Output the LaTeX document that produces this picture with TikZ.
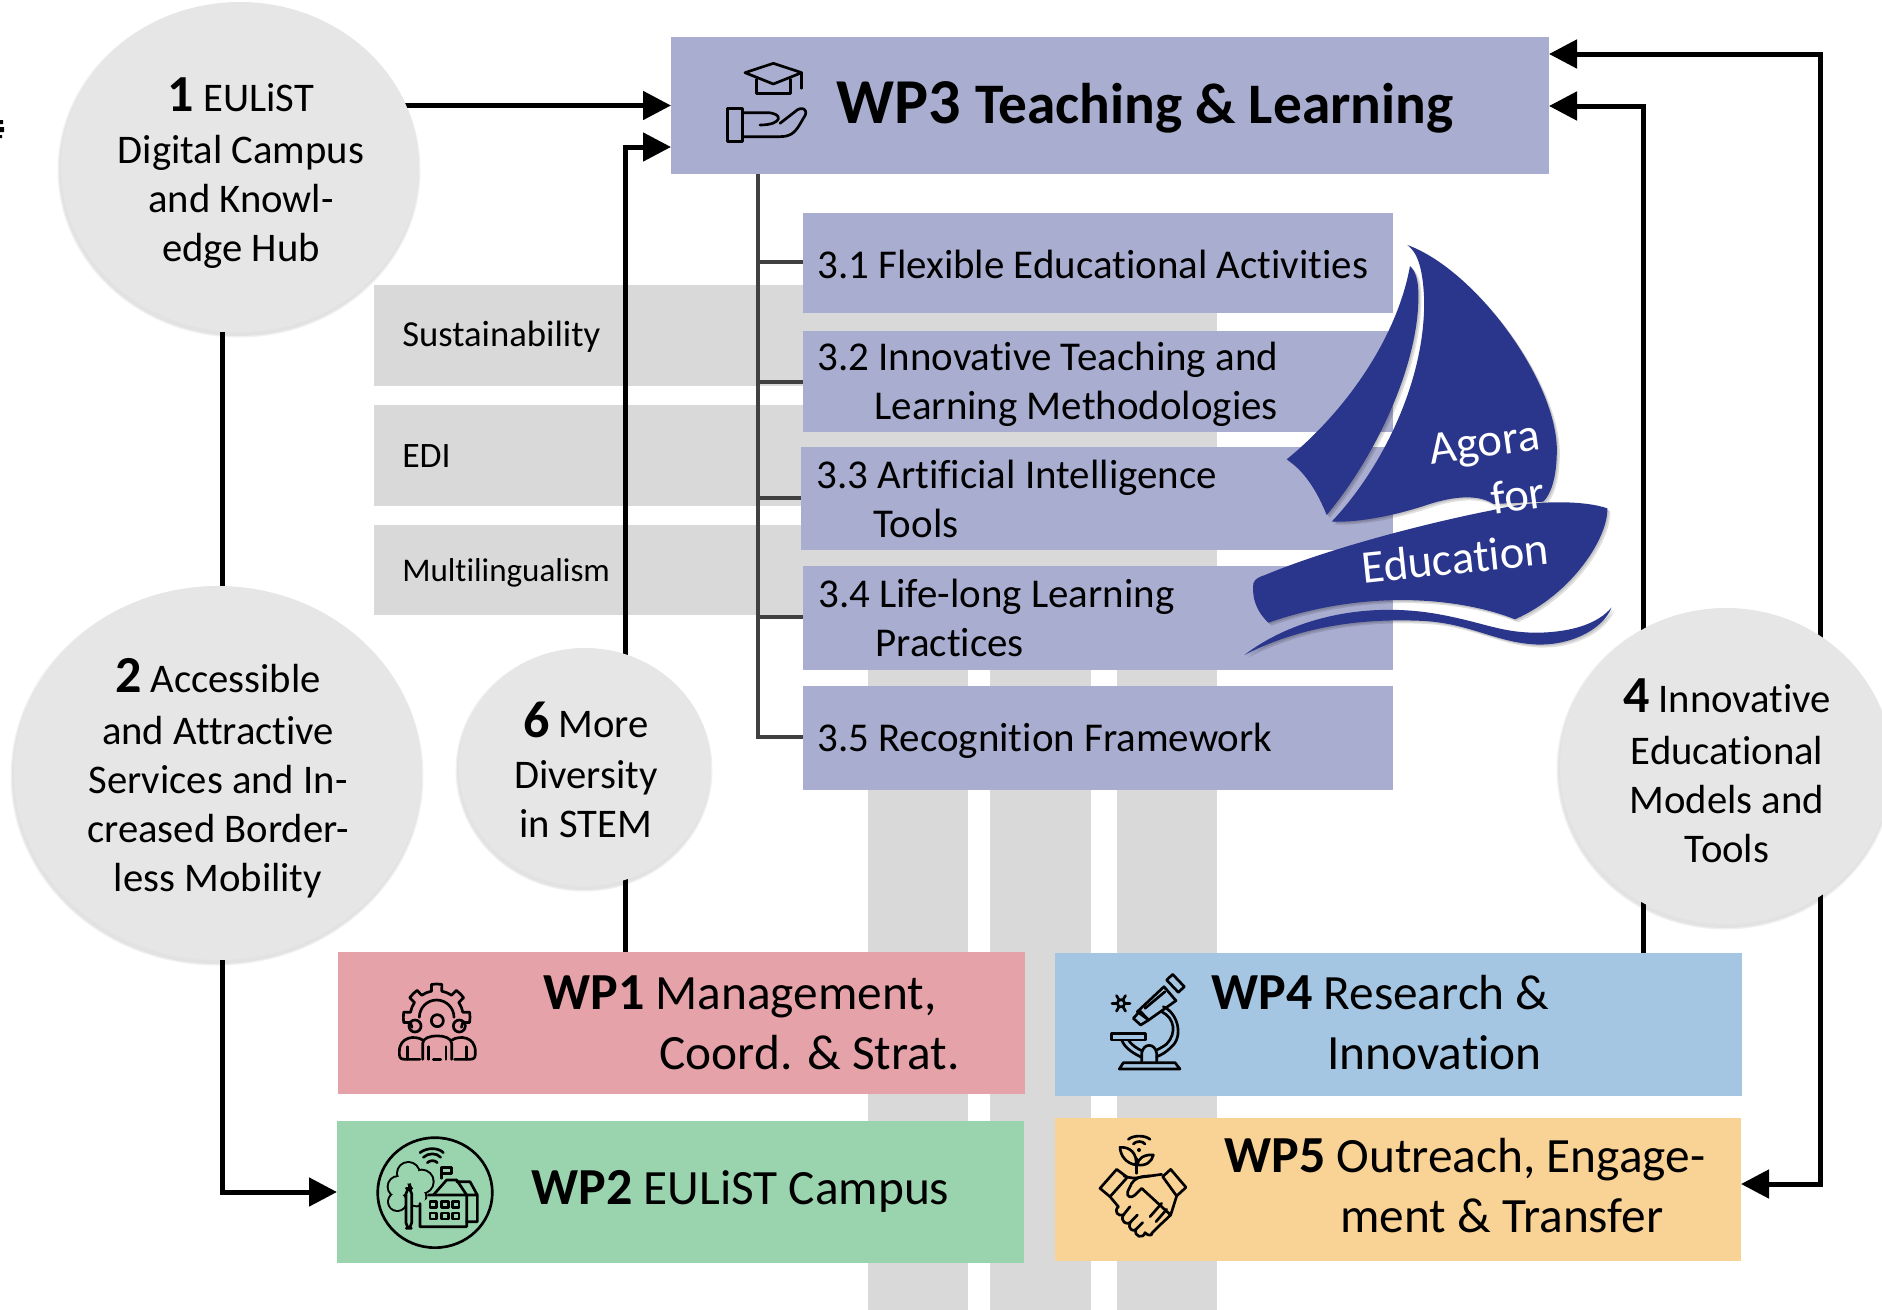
\documentclass[tikz,border=0pt]{standalone}
\usepackage{fontspec}
\setmainfont[Ligatures=CommonOff]{Carlito}
\usetikzlibrary{arrows.meta,shapes.geometric}
\pgfdeclarelayer{bgbars}\pgfdeclarelayer{conn}\pgfsetlayers{bgbars,conn,main}
\definecolor{wpviolet}{HTML}{A9ADD0}
\definecolor{barcol}{HTML}{D9D9D9}
\definecolor{circcol}{HTML}{E6E6E6}
\definecolor{wpred}{HTML}{E5A2A8}
\definecolor{wpgreen}{HTML}{9AD4AE}
\definecolor{wpblue}{HTML}{A5C6E2}
\definecolor{wporange}{HTML}{F9D296}
\definecolor{shipcol}{HTML}{2A368C}
\tikzset{
  flatbox/.style={rectangle,inner sep=0pt,outer sep=0pt,draw=none},
  goal/.style={ellipse,inner sep=0pt,outer sep=0pt,draw=none,fill=circcol},
  flow/.style={line width=3.75pt,black,-{Triangle[length=21pt,width=21pt]}},
  stem/.style={line width=2.4pt,black!75},
  icon/.style={line width=2pt,black,line join=round,line cap=round},
  goaltext/.style={inner sep=0pt,align=center,font=\fontsize{30.5}{36.75}\selectfont},
  subtext/.style={inner sep=0pt,anchor=west,align=left,font=\fontsize{30.7}{36.75}\selectfont},
  bartext/.style={inner sep=0pt,anchor=west},
  wptext/.style={inner sep=0pt,anchor=west,align=left,font=\fontsize{37}{45}\selectfont},
  shiptext/.style={inner sep=0pt,white,font=\fontsize{35}{40}\selectfont},
}
\newcommand{\rbox}[6]{%
  \pgfmathsetmacro{\rcx}{(#2+#4)/2}\pgfmathsetmacro{\rcy}{(#3+#5)/2}%
  \pgfmathsetmacro{\rbw}{(#4-#2)*.75}\pgfmathsetmacro{\rbh}{(#5-#3)*.75}%
  \node[flatbox,fill=#6,minimum width=\rbw pt,minimum height=\rbh pt] (#1) at (\rcx,\rcy) {};}
\newcommand{\goalnode}[5]{%
  \foreach \gr in {2.5,1}{\fill[black,opacity=.06] (#2-1,#3+3) ellipse [x radius=#4+\gr,y radius=#5+\gr];}
  \pgfmathsetmacro{\rbw}{#4*1.5}\pgfmathsetmacro{\rbh}{#5*1.5}%
  \node[goal,minimum width=\rbw pt,minimum height=\rbh pt] (#1) at (#2,#3) {};}
\newcommand{\numb}[1]{{\fontsize{39}{36.75}\selectfont\bfseries #1}}
\newcommand{\wpb}[1]{{\fontsize{39}{45}\selectfont\bfseries #1}}
\newcommand{\drawship}[1]{%
  \fill[#1] (630,198) .. controls (648,215) and (655,245) .. (655,280)
     .. controls (660,480) and (535,760) .. (380,945)
     .. controls (350,870) and (310,810) .. (260,778)
     .. controls (430,640) and (590,420) .. (630,198) -- cycle;
  \fill[#1] (622,135) .. controls (830,210) and (1085,560) .. (1070,770)
     .. controls (1068,830) and (1055,880) .. (1030,905)
     -- (880,912) .. controls (840,885) and (770,885) .. (680,915)
     .. controls (590,945) and (480,968) .. (395,965)
     .. controls (560,790) and (680,520) .. (672,290)
     .. controls (668,200) and (650,155) .. (622,135) -- cycle;
  \fill[#1] (160,1150) .. controls (165,1135) and (180,1130) .. (195,1125)
     .. controls (400,1040) and (700,965) .. (880,930)
     .. controls (1000,900) and (1150,900) .. (1222,925)
     .. controls (1225,1010) and (1120,1180) .. (945,1258)
     .. controls (800,1200) and (520,1160) .. (205,1268)
     .. controls (170,1235) and (155,1195) .. (160,1150) -- cycle;
  \fill[#1] (133,1365) .. controls (270,1260) and (480,1205) .. (700,1240)
     .. controls (850,1265) and (900,1300) .. (1020,1298)
     .. controls (1120,1295) and (1195,1270) .. (1235,1222)
     .. controls (1205,1295) and (1100,1340) .. (1000,1333)
     .. controls (880,1325) and (800,1265) .. (650,1262)
     .. controls (450,1255) and (280,1290) .. (133,1365) -- cycle;}
\begin{document}
\begin{tikzpicture}[x=.75pt,y=-.75pt]
\useasboundingbox (0,0) rectangle (1882,1310);
\begin{scope}
\clip (0,0) rectangle (1882,1310);
% stray fragment at the left border
\fill[black] (0,120) rectangle (3,124) (0,127) rectangle (4,132) (0,135) rectangle (2,138);
% bars behind
\begin{pgfonlayer}{bgbars}
\rbox{v1}{868}{300}{968}{1310}{barcol}
\rbox{v2}{990}{300}{1091}{1310}{barcol}
\rbox{v3}{1117}{300}{1217}{1310}{barcol}
\rbox{b1}{374}{285}{1216}{386}{barcol}
\rbox{b2}{374}{405}{1216}{506}{barcol}
\rbox{b3}{374}{525}{1216}{615}{barcol}
\end{pgfonlayer}
\node[bartext,font=\fontsize{27.5}{33}\selectfont] (tb1) at (402,337) {Sustainability};
\node[bartext,font=\fontsize{26.8}{33}\selectfont] (tb2) at (402,456) {EDI};
\node[bartext,font=\fontsize{24.8}{33}\selectfont] (tb3) at (402,573) {Multilingualism};
% boxes
\rbox{wp3}{671}{37}{1549}{174}{wpviolet}
\rbox{s31}{803}{213}{1393}{313}{wpviolet}
\rbox{s32}{803}{331}{1393}{432}{wpviolet}
\rbox{s33}{801}{447}{1393}{550}{wpviolet}
\rbox{s34}{803}{566}{1393}{670}{wpviolet}
\rbox{s35}{803}{686}{1393}{790}{wpviolet}
\rbox{wp1}{338}{952}{1025}{1094}{wpred}
\rbox{wp2}{337}{1121}{1024}{1263}{wpgreen}
\rbox{wp4}{1055}{953}{1742}{1096}{wpblue}
\rbox{wp5}{1055}{1118}{1741}{1261}{wporange}
% goals
\goalnode{c1}{240}{167}{179}{165}
\goalnode{c2}{218}{773}{204}{187}
\goalnode{c6}{585}{767}{126}{119}
\goalnode{c4}{1726}{766}{166}{158}
% connectors
\coordinate (t6) at (625,147);
\coordinate (t4) at (1643,106);
\coordinate (t5a) at (1820,54);
\coordinate (t5b) at (1820,1184);
\coordinate (t2) at (222,1192);
\coordinate (st1) at (758,262);
\coordinate (st2) at (758,382);
\coordinate (st3) at (758,498);
\coordinate (st4) at (758,617);
\coordinate (st5) at (758,737);
\begin{pgfonlayer}{conn}
\draw[flow] (c1.center |- wp3.west) -- (wp3.west);
\draw[flow] (wp1.north -| t6) -- (t6) -- (wp3.west |- t6);
\draw[flow] (c1.south -| t2) -- (t2) -- (wp2.west |- t2);
\draw[flow] (wp4.north -| t4) -- (t4) -- (wp3.east |- t4);
\draw[flow,{Triangle[length=21pt,width=21pt]}-{Triangle[length=21pt,width=21pt]}] (wp3.east |- t5a) -- (t5a) -- (t5b) -- (wp5.east |- t5b);
\draw[stem] (wp3.south -| st5) -- (st5) -- (s35.west |- st5);
\draw[stem] (st1) -- (s31.west |- st1);
\draw[stem] (st2) -- (s32.west |- st2);
\draw[stem] (st3) -- (s33.west |- st3);
\draw[stem] (st4) -- (s34.west |- st4);
\end{pgfonlayer}
% goal texts
\node[goaltext] (g1) at (241,173) {\numb{1} EULiST\\[2pt]Digital Campus\\and Knowl-\\edge Hub};
\node[goaltext] (g2) at (218,778) {\numb{2} Accessible\\[2pt]and Attractive\\Services and In-\\creased Border-\\less Mobility};
\node[goaltext] (g6) at (586,770) {\numb{6} More\\[2pt]Diversity\\in STEM};
\node[goaltext] (g4) at (1727,771) {\numb{4} Innovative\\[2pt]Educational\\Models and\\Tools};
% sub texts
\node[subtext] (t31) at (817,264) {3.1 Flexible Educational Activities};
\node[subtext] (t32) at (817,384) {3.2 Innovative Teaching and\\\hspace*{43pt}Learning Methodologies};
\node[subtext] (t33) at (816,499) {3.3 Artificial Intelligence\\\hspace*{43pt}Tools};
\node[subtext] (t34) at (818,618) {3.4 Life-long Learning\\\hspace*{43pt}Practices};
\node[subtext] (t35) at (817,741) {3.5 Recognition Framework};
% wp texts
\node[inner sep=0pt,anchor=west] (tw3) at (836,107) {\fontsize{48}{50}\selectfont\bfseries WP3 {\fontsize{43}{50}\selectfont Teaching \& Learning}};
\node[wptext] (tw1) at (543,1023) {\wpb{WP1} Management,\\\hspace*{87pt}Coord. \& Strat.};
\node[wptext] (tw2) at (531,1191) {\wpb{WP2} EULiST Campus};
\node[wptext] (tw4) at (1211,1023) {\wpb{WP4} Research \&\\\hspace*{87pt}Innovation};
\node[wptext] (tw5) at (1224,1186) {\wpb{WP5} Outreach, Engage-\\\hspace*{87pt}ment \& Transfer};
% ship
\begin{scope}[shift={(1203,203)},scale=1/3]\drawship{black,opacity=.12}\end{scope}
\begin{scope}[shift={(1201.5,201.5)},scale=1/3]\drawship{black,opacity=.12}\end{scope}
\begin{scope}[shift={(1200,200)},scale=1/3]\drawship{shipcol}\end{scope}
\node[shiptext,rotate=8] (ag) at (1485,446) {Agora};
\node[shiptext,rotate=8] (fo) at (1518,495) {for};
\node[shiptext,rotate=6] (ed) at (1455,558) {Education};
% icon WP3
\begin{scope}[shift={(680,30)},scale=1/3]
\draw[icon] (195,128)--(280,100)--(365,128)--(280,162)--cycle;
\draw[icon] (365,128)--(365,175);
\draw[icon] (230,148)--(230,190)--(332,190)--(332,148);
\draw[icon] (142,235) rectangle (188,335);
\draw[icon] (188,248)--(260,248) .. controls (310,248) and (310,285) .. (240,285);
\draw[icon] (300,280)--(345,245) .. controls (365,225) and (390,240) .. (370,265) .. controls (350,300) and (340,320) .. (300,320)--(188,320);
\end{scope}
% icon WP1
\begin{scope}[shift={(320,940)},scale=1/3]
\begin{scope}[shift={(350,232)}]
\foreach \a in {180,225,270,315,360}{
\draw[icon] (\a-22:80) arc [start angle=\a-22,end angle=\a-11,radius=80] -- (\a-9:100) arc [start angle=\a-9,end angle=\a+9,radius=100] -- (\a+11:80) arc [start angle=\a+11,end angle=\a+22,radius=80];}
\draw[icon] (180:52) arc [start angle=180,end angle=360,radius=52];
\end{scope}
\draw[icon] (352,242) circle [radius=18];
\draw[icon] (285,258) circle [radius=18];
\draw[icon] (418,258) circle [radius=18];
\draw[icon] (308,358)--(308,310) .. controls (308,280) and (395,280) .. (395,310)--(395,358);
\draw[icon] (325,358)--(325,320) (378,358)--(378,320) (340,358)--(362,358);
\draw[icon] (300,358)--(255,358) .. controls (238,358) and (238,350) .. (238,335) .. controls (238,290) and (285,285) .. (308,300);
\draw[icon] (404,358)--(449,358) .. controls (466,358) and (466,350) .. (466,335) .. controls (466,290) and (419,285) .. (396,300);
\draw[icon] (262,358)--(262,320) (440,358)--(440,320);
\end{scope}
% icon WP2
\begin{scope}[shift={(320,940)},scale=1/3]
\draw[icon] (345,758) ellipse [x radius=172,y radius=165];
\foreach \px/\py/\pr in {265/700/33,235/740/31,305/725/35,232/785/27,290/770/28}{\draw[icon,fill=wpgreen] (\px,\py) circle [radius=\pr];}
\foreach \px/\py/\pr in {265/700/33,235/740/31,305/725/35,232/785/27,290/770/28}{\fill[wpgreen] (\px,\py) circle [radius=\pr-2];}
\draw[icon,fill=wpgreen,rounded corners=4pt] (258,745) rectangle (275,865);
\draw[icon,fill=wpgreen] (340,765)--(380,720)--(410,720)--(440,765)--(440,860)--(300,860)--(300,790);
\draw[icon] (325,765)--(440,765) (410,725)--(450,725)--(472,765)--(440,765) (472,765)--(472,845)--(440,845);
\draw[icon] (365,715)--(365,682)--(395,682)--(395,700)--(365,700);
\foreach \wx in {340,375,407}{\foreach \wy in {793,828}{\draw[icon] (\wx-10,\wy-9) rectangle (\wx+10,\wy+9);}}
\draw[icon] (322,668) .. controls (330,660) and (345,660) .. (352,668);
\draw[icon] (310,652) .. controls (325,638) and (350,638) .. (362,652);
\draw[icon] (300,638) .. controls (320,622) and (355,622) .. (370,638);
\end{scope}
% icon WP4
\begin{scope}[shift={(1050,940)},scale=1/3]
\draw[icon] (350,120)--(368,103)--(403,140)--(385,157)--cycle;
\draw[icon] (262,215)--(342,140)--(378,182)--(296,240)--cycle;
\draw[icon] (250,235)--(270,213)--(296,240)--(272,255)--cycle;
\draw[icon] (285,205)--(345,155);
\draw[icon] (340,200) .. controls (385,220) and (400,290) .. (365,320) .. controls (350,335) and (335,345) .. (320,350);
\draw[icon] (335,215) .. controls (375,235) and (380,280) .. (350,312) .. controls (340,320) and (330,325) .. (320,330);
\draw[icon] (185,280) rectangle (287,300);
\draw[icon] (215,300) .. controls (225,325) and (250,340) .. (275,352);
\draw[icon] (235,300) .. controls (245,315) and (260,325) .. (275,332);
\draw[icon] (208,387)--(220,368)--(375,368)--(390,387)--cycle;
\draw[icon] (275,365)--(275,340) .. controls (280,308) and (315,308) .. (320,340)--(320,365);
\draw[icon] (213,190) circle [radius=11];
\foreach \a in {0,60,120,180,240,300}{\draw[icon] (213,190) ++(\a:11) -- ++(\a:16);}
\end{scope}
% icon WP5
\begin{scope}[shift={(1050,940)},scale=1/3]
\draw[icon] (260,700)--(260,655);
\draw[icon] (210,622) .. controls (240,620) and (262,640) .. (258,675) .. controls (230,670) and (212,650) .. (210,622) -- cycle;
\draw[icon] (310,645) .. controls (285,642) and (262,655) .. (262,675) .. controls (290,678) and (305,665) .. (310,645) -- cycle;
\fill (267,630) circle [radius=6];
\draw[icon] (250,612) .. controls (258,602) and (278,602) .. (285,612);
\draw[icon] (235,598) .. controls (250,585) and (285,585) .. (300,598);
\draw[icon] (150,745)--(200,688)--(232,712)--(180,770)--cycle;
\draw[icon] (338,710)--(362,688)--(408,742)--(380,768)--cycle;
\draw[icon] (222,708) .. controls (240,715) and (255,715) .. (270,712) -- (335,703);
\draw[icon] (300,708) .. controls (270,708) and (255,715) .. (245,730) -- (233,755) .. controls (228,772) and (245,775) .. (255,765) -- (275,745) -- (362,825);
\draw[icon] (380,768)--(362,825) -- (330,855);
\draw[icon] (180,770)--(205,800);
\draw[icon] (335,790)--(300,830) (350,808)--(318,845) (330,855)--(305,880);
\draw[icon] (205,800) .. controls (190,815) and (205,830) .. (220,825) .. controls (210,845) and (230,855) .. (240,848) .. controls (232,865) and (250,878) .. (258,868) .. controls (250,890) and (280,898) .. (285,878) .. controls (295,890) and (310,885) .. (305,880);
\draw[icon] (220,825)--(240,800) (240,848)--(262,825) (258,868)--(278,848);
\end{scope}
\end{scope}
\end{tikzpicture}
\end{document}
